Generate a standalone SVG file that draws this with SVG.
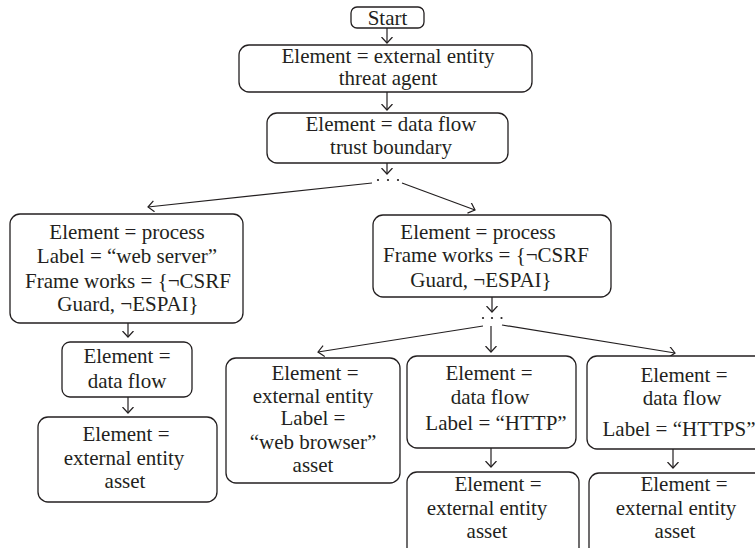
<svg xmlns="http://www.w3.org/2000/svg" width="755" height="548" viewBox="0 0 755 548">
<defs>
<marker id="ah" markerUnits="userSpaceOnUse" markerWidth="14" markerHeight="14" refX="6.5" refY="5.5" orient="auto">
<path d="M0.5,0 L6.5,5.5 L0.5,11" fill="none" stroke="#231f20" stroke-width="1.2"/>
</marker>
<style>
rect{fill:#fff;stroke:#231f20;stroke-width:1.3}
text{font-family:"Liberation Serif","Times New Roman",serif;font-size:21px;fill:#231f20;text-anchor:middle}
.c line{stroke:#231f20;stroke-width:1.2;marker-end:url(#ah)}
.c circle{fill:#231f20}
</style>
</defs>
<rect x="0" y="0" width="755" height="548" style="fill:#fff;stroke:none"/>
<g class="c" id="connectors">
<line x1="387" y1="28" x2="387" y2="43"/>
<line x1="387" y1="92" x2="387" y2="110"/>
<line x1="387" y1="163" x2="387" y2="174"/>
<circle cx="378" cy="180" r="1.1"/><circle cx="388" cy="180" r="1.1"/><circle cx="398" cy="180" r="1.1"/>
<line x1="372" y1="183" x2="148" y2="207"/>
<line x1="402" y1="183" x2="475" y2="210"/>
<line x1="128" y1="323" x2="128" y2="337"/>
<line x1="128" y1="397" x2="128" y2="413"/>
<line x1="492" y1="297" x2="492" y2="312"/>
<circle cx="483" cy="318" r="1.1"/><circle cx="492" cy="318" r="1.1"/><circle cx="501.5" cy="318" r="1.1"/>
<line x1="483" y1="326" x2="318" y2="352"/>
<line x1="491" y1="326" x2="491" y2="352"/>
<line x1="502" y1="325" x2="675" y2="353"/>
<line x1="491" y1="448" x2="491" y2="467"/>
<line x1="673" y1="449" x2="673" y2="468"/>
</g>
<g id="start"><rect x="351" y="7" width="73" height="21" rx="6"/><text x="387.5" y="25">Start</text></g>
<g id="threat-agent"><rect x="239" y="45" width="293" height="47" rx="10"/><text x="388" y="63">Element = external entity</text><text x="388" y="85">threat agent</text></g>
<g id="trust-boundary"><rect x="267" y="113" width="241" height="50" rx="10"/><text x="391" y="131">Element = data flow</text><text x="391" y="154">trust boundary</text></g>
<g id="process-left"><rect x="10" y="214" width="233" height="109" rx="10"/><text x="127" y="239">Element = process</text><text x="127" y="263">Label = “web server”</text><text x="128" y="288">Frame works = {¬CSRF</text><text x="128" y="311">Guard, ¬ESPAI}</text></g>
<g id="process-right"><rect x="373" y="215" width="238" height="82" rx="10"/><text x="478" y="239">Element = process</text><text x="486" y="262">Frame works = {¬CSRF</text><text x="481" y="287">Guard, ¬ESPAI}</text></g>
<g id="dataflow-left"><rect x="62" y="342" width="130" height="55" rx="8"/><text x="127" y="363">Element =</text><text x="127" y="388">data flow</text></g>
<g id="asset-left"><rect x="38" y="417" width="179" height="85" rx="10"/><text x="126" y="441">Element =</text><text x="124" y="465">external entity</text><text x="125" y="488">asset</text></g>
<g id="web-browser"><rect x="226" y="358" width="174" height="125" rx="10"/><text x="315" y="380">Element =</text><text x="313" y="403">external entity</text><text x="313" y="425">Label =</text><text x="313" y="449">“web browser”</text><text x="313" y="472">asset</text></g>
<g id="http"><rect x="407" y="356" width="169" height="92" rx="10"/><text x="489" y="380">Element =</text><text x="490" y="404">data flow</text><text x="496" y="430">Label = “HTTP”</text></g>
<g id="http-asset"><rect x="407" y="472" width="172" height="100" rx="10"/><text x="498" y="491">Element =</text><text x="487" y="515">external entity</text><text x="487" y="538">asset</text></g>
<g id="https"><rect x="587" y="356" width="190" height="93" rx="10"/><text x="684" y="382">Element =</text><text x="682" y="405">data flow</text><text x="679" y="436">Label = “HTTPS”</text></g>
<g id="https-asset"><rect x="589" y="473" width="185" height="100" rx="10"/><text x="684" y="491">Element =</text><text x="676" y="515">external entity</text><text x="675" y="538">asset</text></g>
</svg>
